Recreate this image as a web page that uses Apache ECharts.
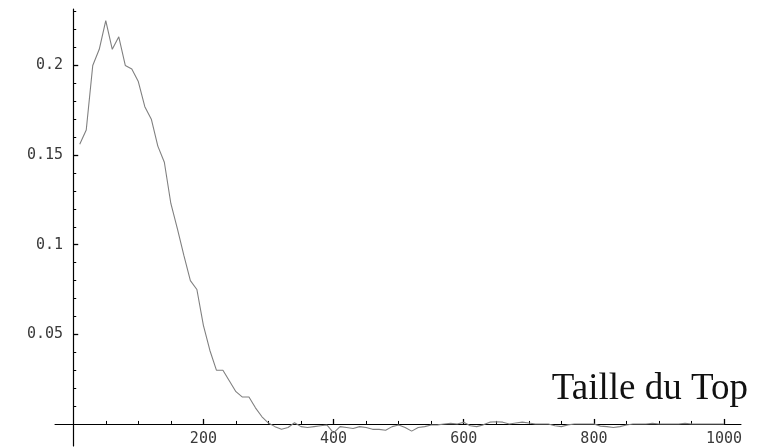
<!DOCTYPE html>
<html>
<head>
<meta charset="utf-8">
<script src="https://cdn.jsdelivr.net/npm/echarts@6/dist/echarts.min.js"></script>
<style>
  html, body { margin: 0; padding: 0; background: #fff; }
  #chart { width: 763px; height: 447px; }
</style>
</head>
<body>
<div id="chart"></div>
<script>
// data (taille du top vs value)
var xValues = [10, 20, 30, 40, 50, 60, 70, 80, 90, 100,
    110, 120, 130, 140, 150, 160, 170, 180, 190, 200,
    210, 220, 230, 240, 250, 260, 270, 280, 290, 300,
    310, 320, 330, 340, 350, 360, 370, 380, 390, 400,
    410, 420, 430, 440, 450, 460, 470, 480, 490, 500,
    510, 520, 530, 540, 550, 560, 570, 580, 590, 600,
    610, 620, 630, 640, 650, 660, 670, 680, 690, 700,
    710, 720, 730, 740, 750, 760, 770, 780, 790, 800,
    810, 820, 830, 840, 850, 860, 870, 880, 890, 900,
    910, 920, 930, 940, 950, 960, 970, 980, 990, 1000];
var yValues = [0.156, 0.164, 0.200, 0.209, 0.225, 0.209, 0.216, 0.200, 0.198, 0.191,
    0.177, 0.170, 0.155, 0.146, 0.123, 0.109, 0.094, 0.080, 0.075, 0.055,
    0.041, 0.030, 0.030, 0.024, 0.018, 0.015, 0.015, 0.009, 0.004, 0.0005,
    -0.0015, -0.003, -0.002, 0.0007, -0.0015, -0.002, -0.0015, -0.001, -0.0006, -0.005,
    -0.0015, -0.002, -0.0025, -0.0015, -0.002, -0.003, -0.003, -0.0035, -0.0015, -0.0006,
    -0.002, -0.004, -0.002, -0.0015, -0.0006, -0.0005, 0, 0.0003, 0, 0.001,
    -0.001, -0.0015, -0.0005, 0.001, 0.0012, 0.001, 0, 0.0005, 0.001, 0.0005,
    0, 0, 0, -0.001, -0.0015, -0.0005, 0, 0, 0, 0,
    -0.0012, -0.0015, -0.002, -0.0015, -0.0006, 0, 0, 0, 0.0003, 0,
    0, 0, 0, 0.0003, 0, 0, 0, 0, 0, 0];
var xMinorTicks = [50, 100, 150, 250, 300, 350, 450, 500, 550, 650, 700, 750, 850, 900, 950];
var xMajorTicks = [200, 400, 600, 800, 1000];
var yMinorTicks = [0.01, 0.02, 0.03, 0.04, 0.06, 0.07, 0.08, 0.09, 0.11, 0.12, 0.13, 0.14,
    0.16, 0.17, 0.18, 0.19, 0.21, 0.22, 0.23];
var yMajorTicks = [0.05, 0.1, 0.15, 0.2];
var axisTitle = 'Taille du Top';

var points = xValues.map(function (x, i) { return [x, yValues[i]]; });

var myChart = echarts.init(document.getElementById('chart'));

var labelFont = {
    fontFamily: 'DejaVu Sans Mono',
    fontSize: 15,
    color: '#3a3a3a'
};

var option = {
    animation: false,
    backgroundColor: '#fff',
    grid: {
        left: 55,
        right: 22,
        top: 9,
        bottom: 1,
        containLabel: false,
        outerBoundsMode: 'none'
    },
    xAxis: [
        {
            type: 'value',
            position: 'bottom',
            min: -28,
            max: 1026,
            axisLine: { show: true, onZero: true, onZeroAxisIndex: 0, lineStyle: { color: '#000', width: 1 } },
            axisTick: { show: true, inside: true, length: 3, customValues: xMinorTicks, lineStyle: { color: '#000' } },
            // labels sit off the grid edge, so pull them up next to the zero line
            axisLabel: Object.assign({
                show: true, margin: -14, customValues: xMajorTicks,
                formatter: function (v) { return String(v); }
            }, labelFont),
            splitLine: { show: false }
        },
        {
            type: 'value',
            position: 'bottom',
            min: -28,
            max: 1026,
            axisLine: { show: false, onZero: true, onZeroAxisIndex: 0 },
            axisTick: { show: true, inside: true, length: 5, customValues: xMajorTicks, lineStyle: { color: '#000', width: 1.3 } },
            axisLabel: { show: false },
            splitLine: { show: false }
        }
    ],
    yAxis: [
        {
            type: 'value',
            position: 'left',
            min: -0.0123,
            max: 0.2315,
            axisLine: { show: true, onZero: true, onZeroAxisIndex: 0, lineStyle: { color: '#000', width: 1.2 } },
            axisTick: { show: true, inside: true, length: 3, customValues: yMinorTicks, lineStyle: { color: '#000' } },
            axisLabel: Object.assign({
                show: true, margin: -8, customValues: yMajorTicks,
                formatter: function (v) { return String(v); }
            }, labelFont),
            splitLine: { show: false }
        },
        {
            type: 'value',
            position: 'left',
            min: -0.0123,
            max: 0.2315,
            axisLine: { show: false, onZero: true, onZeroAxisIndex: 0 },
            axisTick: { show: true, inside: true, length: 5, customValues: yMajorTicks, lineStyle: { color: '#000', width: 1.3 } },
            axisLabel: { show: false },
            splitLine: { show: false }
        }
    ],
    graphic: [
        {
            type: 'text',
            right: 15,
            top: 371,
            style: {
                text: axisTitle,
                fontFamily: 'Liberation Serif',
                fontSize: 37,
                fill: '#111'
            }
        }
    ],
    series: [
        {
            type: 'line',
            xAxisIndex: 0,
            yAxisIndex: 0,
            data: points,
            showSymbol: false,
            smooth: false,
            lineStyle: { color: '#808080', width: 1.1 }
        }
    ]
};

myChart.setOption(option);
</script>
</body>
</html>
